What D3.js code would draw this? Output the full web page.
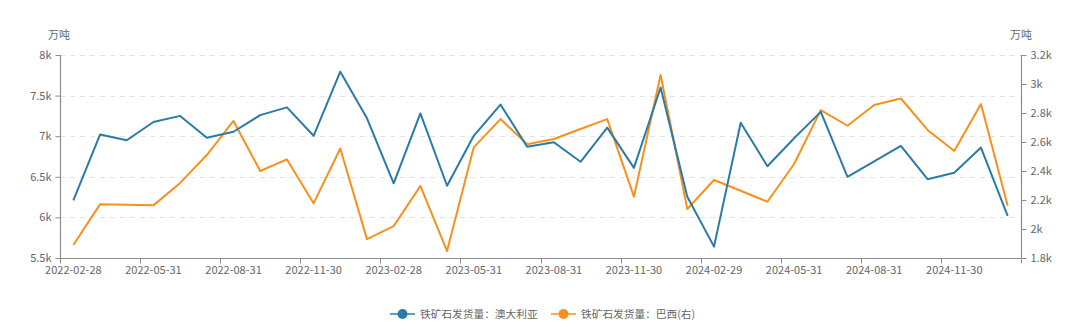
<!DOCTYPE html>
<html>
<head>
<meta charset="utf-8">
<script src="https://cdn.jsdelivr.net/npm/d3@7/dist/d3.min.js"></script>
<style>
  html, body { margin: 0; padding: 0; background: #fff; }
  svg { display: block; font-family: "Noto Sans CJK SC", "Noto Sans", sans-serif; }
</style>
</head>
<body>
<svg id="chart" width="1080" height="330"></svg>
<script>
const categories = [
  "2022-02-28","2022-03-31","2022-04-30","2022-05-31","2022-06-30","2022-07-31",
  "2022-08-31","2022-09-30","2022-10-31","2022-11-30","2022-12-31","2023-01-31",
  "2023-02-28","2023-03-31","2023-04-30","2023-05-31","2023-06-30","2023-07-31",
  "2023-08-31","2023-09-30","2023-10-31","2023-11-30","2023-12-31","2024-01-31",
  "2024-02-29","2024-03-31","2024-04-30","2024-05-31","2024-06-30","2024-07-31",
  "2024-08-31","2024-09-30","2024-10-31","2024-11-30","2024-12-31","2025-01-31"
];
const australia = [
  6210, 7020, 6950, 7175, 7250, 6980, 7055, 7260, 7355, 7005, 7795, 7220,
  6420, 7280, 6390, 7005, 7390, 6870, 6925, 6685, 7105, 6610, 7600, 6255,
  5640, 7165, 6630, 6975, 7300, 6500, 6690, 6880, 6470, 6550, 6860, 6020
];
const brazil = [
  1890, 2170, 2167, 2163, 2318, 2510, 2745, 2400, 2480, 2177, 2555, 1930,
  2020, 2297, 1848, 2563, 2758, 2584, 2621, 2690, 2758, 2223, 3062, 2138,
  2338, 2264, 2188, 2448, 2820, 2712, 2855, 2900, 2683, 2538, 2862, 2161
];
const leftTicks = [5500, 6000, 6500, 7000, 7500, 8000];
const rightTicks = [1800, 2000, 2200, 2400, 2600, 2800, 3000, 3200];
const seriesNames = ["铁矿石发货量：澳大利亚", "铁矿石发货量：巴西(右)"];
const unitLabel = "万吨";

const colors = ["#2a7ba8", "#f7901e"];
const axisColor = "#8c8c8c";
const textColor = "#666";

const svg = d3.select("#chart");
const margin = { left: 60, right: 59, top: 55, bottom: 72 };
const W = 1080, H = 330;
const x0 = margin.left, x1 = W - margin.right;
const y0 = H - margin.bottom, y1 = margin.top;

const x = d3.scaleBand().domain(categories).range([x0, x1]).paddingInner(0).paddingOuter(0);
const yL = d3.scaleLinear().domain([5500, 8000]).range([y0, y1]);
const yR = d3.scaleLinear().domain([1800, 3200]).range([y0, y1]);

const fmtK = v => (v / 1000) + "k";

// grid
svg.append("g").selectAll("line").data(leftTicks.slice(1)).join("line")
  .attr("x1", x0).attr("x2", x1)
  .attr("y1", d => Math.round(yL(d)) + 0.5).attr("y2", d => Math.round(yL(d)) + 0.5)
  .attr("stroke", "#e3e3e3").attr("stroke-dasharray", "5,5");

// left axis
const gL = svg.append("g").attr("transform", `translate(${x0 + 0.5},0)`)
  .call(d3.axisLeft(yL).tickValues(leftTicks).tickFormat(fmtK).tickSize(5).tickPadding(4));
// right axis
const gR = svg.append("g").attr("transform", `translate(${x1 + 0.5},0)`)
  .call(d3.axisRight(yR).tickValues(rightTicks).tickFormat(fmtK).tickSize(5).tickPadding(4));

// bottom axis
const labelIdx = categories.map((c, i) => i).filter(i => i % 3 === 0);
const gB = svg.append("g").attr("transform", `translate(0,${y0 + 0.5})`)
  .call(d3.axisBottom(x).tickValues(labelIdx.map(i => categories[i])).tickSize(0).tickPadding(8));
// boundary ticks
const boundaryIdx = labelIdx.concat([categories.length]);
gB.append("g").selectAll("line").data(boundaryIdx).join("line")
  .attr("x1", i => Math.round(x0 + i * x.bandwidth()) + 0.5)
  .attr("x2", i => Math.round(x0 + i * x.bandwidth()) + 0.5)
  .attr("y1", 0).attr("y2", 5).attr("stroke", axisColor);

[gL, gR, gB].forEach(g => {
  g.attr("font-family", null);
  g.selectAll(".domain").attr("stroke", axisColor).attr("stroke-width", 1.2);
  g.selectAll(".tick line").attr("stroke", axisColor);
  g.selectAll("text").attr("fill", textColor).attr("font-size", 11);
});
gL.select(".domain").attr("d", `M0,${y1}V${y0}`);
gR.select(".domain").attr("d", `M0,${y1}V${y0}`);
gB.select(".domain").attr("d", `M${x0},0H${x1}`);

// unit labels
svg.append("text").attr("x", 59).attr("y", 39).attr("text-anchor", "middle")
  .attr("fill", textColor).attr("font-size", 11).text(unitLabel);
svg.append("text").attr("x", 1021).attr("y", 39).attr("text-anchor", "middle")
  .attr("fill", textColor).attr("font-size", 11).text(unitLabel);

// lines
const cx = (d, i) => x(categories[i]) + x.bandwidth() / 2;
const lineL = d3.line().x(cx).y(d => yL(d));
const lineR = d3.line().x(cx).y(d => yR(d));
svg.append("path").datum(brazil).attr("d", lineR)
  .attr("fill", "none").attr("stroke", colors[1]).attr("stroke-width", 2).attr("stroke-linejoin", "round");
svg.append("path").datum(australia).attr("d", lineL)
  .attr("fill", "none").attr("stroke", colors[0]).attr("stroke-width", 2).attr("stroke-linejoin", "round");

// legend
const legendItems = [
  { name: seriesNames[0], color: colors[0], x: 390 },
  { name: seriesNames[1], color: colors[1], x: 551 }
];
const lg = svg.append("g").selectAll("g").data(legendItems).join("g")
  .attr("transform", d => `translate(${d.x},314)`);
lg.append("line").attr("x1", 0).attr("x2", 25).attr("y1", 0).attr("y2", 0)
  .attr("stroke", d => d.color).attr("stroke-width", 1.5);
lg.append("circle").attr("cx", 12.5).attr("cy", 0).attr("r", 5).attr("fill", d => d.color);
lg.append("text").attr("x", 30).attr("y", 4).attr("font-size", 10.7)
  .attr("fill", textColor).text(d => d.name);
</script>
</body>
</html>
